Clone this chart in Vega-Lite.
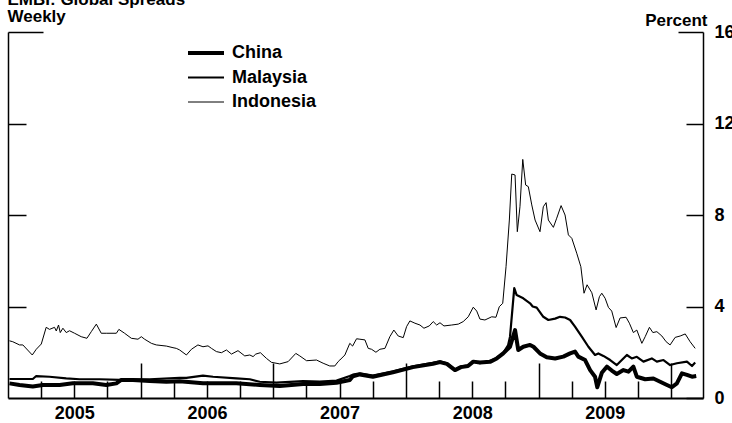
{
  "$schema": "https://vega.github.io/schema/vega-lite/v6.json",
  "width": 695,
  "height": 366,
  "autosize": {"type": "none"},
  "padding": {"left": 8, "top": 32, "right": 29, "bottom": 25},
  "background": "white",
  "config": {
    "font": "Liberation Sans",
    "view": {"stroke": null},
    "axis": {"grid": false, "domainColor": "black", "tickColor": "black", "labelColor": "black", "titleColor": "black", "labelFlush": false, "labelOverlap": false, "labelBound": false}
  },
  "layer": [
    {
      "data": {
        "values": [
          {"series":"Indonesia","year":2005.011,"spread":2.50},{"series":"Indonesia","year":2005.036,"spread":2.46},{"series":"Indonesia","year":2005.087,"spread":2.32},{"series":"Indonesia","year":2005.112,"spread":2.32},{"series":"Indonesia","year":2005.183,"spread":1.88},{"series":"Indonesia","year":2005.213,"spread":2.13},{"series":"Indonesia","year":2005.251,"spread":2.36},{"series":"Indonesia","year":2005.288,"spread":3.09},{"series":"Indonesia","year":2005.313,"spread":3.00},{"series":"Indonesia","year":2005.351,"spread":3.09},{"series":"Indonesia","year":2005.364,"spread":2.93},{"series":"Indonesia","year":2005.381,"spread":3.19},{"series":"Indonesia","year":2005.394,"spread":2.86},{"series":"Indonesia","year":2005.414,"spread":3.05},{"series":"Indonesia","year":2005.439,"spread":2.86},{"series":"Indonesia","year":2005.464,"spread":2.94},{"series":"Indonesia","year":2005.502,"spread":2.83},{"series":"Indonesia","year":2005.552,"spread":2.68},{"series":"Indonesia","year":2005.595,"spread":2.61},{"series":"Indonesia","year":2005.628,"spread":2.90},{"series":"Indonesia","year":2005.666,"spread":3.23},{"series":"Indonesia","year":2005.703,"spread":2.83},{"series":"Indonesia","year":2005.741,"spread":2.83},{"series":"Indonesia","year":2005.817,"spread":2.83},{"series":"Indonesia","year":2005.836,"spread":3.00},{"series":"Indonesia","year":2005.879,"spread":2.83},{"series":"Indonesia","year":2005.930,"spread":2.61},{"series":"Indonesia","year":2005.980,"spread":2.57},{"series":"Indonesia","year":2006.005,"spread":2.68},{"series":"Indonesia","year":2006.030,"spread":2.57},{"series":"Indonesia","year":2006.081,"spread":2.39},{"series":"Indonesia","year":2006.118,"spread":2.32},{"series":"Indonesia","year":2006.194,"spread":2.27},{"series":"Indonesia","year":2006.244,"spread":2.20},{"series":"Indonesia","year":2006.269,"spread":2.17},{"series":"Indonesia","year":2006.294,"spread":2.10},{"series":"Indonesia","year":2006.345,"spread":1.88},{"series":"Indonesia","year":2006.383,"spread":2.13},{"series":"Indonesia","year":2006.432,"spread":2.32},{"series":"Indonesia","year":2006.470,"spread":2.24},{"series":"Indonesia","year":2006.508,"spread":2.28},{"series":"Indonesia","year":2006.534,"spread":2.17},{"series":"Indonesia","year":2006.571,"spread":2.03},{"series":"Indonesia","year":2006.609,"spread":1.98},{"series":"Indonesia","year":2006.647,"spread":2.10},{"series":"Indonesia","year":2006.685,"spread":1.92},{"series":"Indonesia","year":2006.734,"spread":2.07},{"series":"Indonesia","year":2006.785,"spread":1.84},{"series":"Indonesia","year":2006.823,"spread":1.88},{"series":"Indonesia","year":2006.848,"spread":1.81},{"series":"Indonesia","year":2006.868,"spread":1.92},{"series":"Indonesia","year":2006.903,"spread":1.98},{"series":"Indonesia","year":2006.949,"spread":1.73},{"series":"Indonesia","year":2006.986,"spread":1.56},{"series":"Indonesia","year":2007.049,"spread":1.49},{"series":"Indonesia","year":2007.112,"spread":1.59},{"series":"Indonesia","year":2007.170,"spread":1.95},{"series":"Indonesia","year":2007.200,"spread":1.84},{"series":"Indonesia","year":2007.251,"spread":1.63},{"series":"Indonesia","year":2007.326,"spread":1.66},{"series":"Indonesia","year":2007.376,"spread":1.52},{"series":"Indonesia","year":2007.426,"spread":1.40},{"series":"Indonesia","year":2007.464,"spread":1.40},{"series":"Indonesia","year":2007.489,"spread":1.59},{"series":"Indonesia","year":2007.502,"spread":1.66},{"series":"Indonesia","year":2007.540,"spread":1.88},{"series":"Indonesia","year":2007.577,"spread":2.39},{"series":"Indonesia","year":2007.598,"spread":2.27},{"series":"Indonesia","year":2007.628,"spread":2.59},{"series":"Indonesia","year":2007.653,"spread":2.57},{"series":"Indonesia","year":2007.691,"spread":2.54},{"series":"Indonesia","year":2007.716,"spread":2.17},{"series":"Indonesia","year":2007.741,"spread":2.13},{"series":"Indonesia","year":2007.774,"spread":2.00},{"series":"Indonesia","year":2007.804,"spread":2.13},{"series":"Indonesia","year":2007.842,"spread":2.17},{"series":"Indonesia","year":2007.879,"spread":2.68},{"series":"Indonesia","year":2007.909,"spread":2.97},{"series":"Indonesia","year":2007.942,"spread":2.71},{"series":"Indonesia","year":2007.980,"spread":2.64},{"series":"Indonesia","year":2008.005,"spread":3.12},{"series":"Indonesia","year":2008.030,"spread":3.37},{"series":"Indonesia","year":2008.068,"spread":3.27},{"series":"Indonesia","year":2008.106,"spread":3.19},{"series":"Indonesia","year":2008.136,"spread":3.05},{"series":"Indonesia","year":2008.176,"spread":3.15},{"series":"Indonesia","year":2008.206,"spread":3.34},{"series":"Indonesia","year":2008.232,"spread":3.19},{"series":"Indonesia","year":2008.257,"spread":3.29},{"series":"Indonesia","year":2008.287,"spread":3.15},{"series":"Indonesia","year":2008.345,"spread":3.19},{"series":"Indonesia","year":2008.395,"spread":3.23},{"series":"Indonesia","year":2008.432,"spread":3.34},{"series":"Indonesia","year":2008.470,"spread":3.55},{"series":"Indonesia","year":2008.508,"spread":3.97},{"series":"Indonesia","year":2008.534,"spread":3.80},{"series":"Indonesia","year":2008.558,"spread":3.45},{"series":"Indonesia","year":2008.596,"spread":3.41},{"series":"Indonesia","year":2008.647,"spread":3.55},{"series":"Indonesia","year":2008.679,"spread":3.53},{"series":"Indonesia","year":2008.704,"spread":3.99},{"series":"Indonesia","year":2008.730,"spread":4.14},{"series":"Indonesia","year":2008.755,"spread":5.74},{"series":"Indonesia","year":2008.780,"spread":7.78},{"series":"Indonesia","year":2008.798,"spread":9.79},{"series":"Indonesia","year":2008.823,"spread":9.75},{"series":"Indonesia","year":2008.840,"spread":7.27},{"series":"Indonesia","year":2008.860,"spread":8.36},{"series":"Indonesia","year":2008.881,"spread":10.43},{"series":"Indonesia","year":2008.903,"spread":9.31},{"series":"Indonesia","year":2008.923,"spread":9.24},{"series":"Indonesia","year":2008.949,"spread":8.44},{"series":"Indonesia","year":2008.974,"spread":7.78},{"series":"Indonesia","year":2009.011,"spread":7.27},{"series":"Indonesia","year":2009.036,"spread":8.36},{"series":"Indonesia","year":2009.057,"spread":8.54},{"series":"Indonesia","year":2009.074,"spread":7.78},{"series":"Indonesia","year":2009.112,"spread":7.46},{"series":"Indonesia","year":2009.137,"spread":7.86},{"series":"Indonesia","year":2009.170,"spread":8.41},{"series":"Indonesia","year":2009.200,"spread":8.00},{"series":"Indonesia","year":2009.225,"spread":7.13},{"series":"Indonesia","year":2009.251,"spread":6.98},{"series":"Indonesia","year":2009.288,"spread":6.33},{"series":"Indonesia","year":2009.319,"spread":5.74},{"series":"Indonesia","year":2009.343,"spread":4.58},{"series":"Indonesia","year":2009.366,"spread":4.95},{"series":"Indonesia","year":2009.402,"spread":4.60},{"series":"Indonesia","year":2009.434,"spread":3.85},{"series":"Indonesia","year":2009.459,"spread":4.43},{"series":"Indonesia","year":2009.477,"spread":4.58},{"series":"Indonesia","year":2009.502,"spread":4.36},{"series":"Indonesia","year":2009.527,"spread":3.96},{"series":"Indonesia","year":2009.552,"spread":3.80},{"series":"Indonesia","year":2009.585,"spread":3.08},{"series":"Indonesia","year":2009.615,"spread":3.50},{"series":"Indonesia","year":2009.660,"spread":3.53},{"series":"Indonesia","year":2009.685,"spread":3.27},{"series":"Indonesia","year":2009.715,"spread":2.86},{"series":"Indonesia","year":2009.741,"spread":2.97},{"series":"Indonesia","year":2009.779,"spread":2.39},{"series":"Indonesia","year":2009.804,"spread":2.68},{"series":"Indonesia","year":2009.836,"spread":3.09},{"series":"Indonesia","year":2009.862,"spread":2.86},{"series":"Indonesia","year":2009.892,"spread":2.90},{"series":"Indonesia","year":2009.930,"spread":2.71},{"series":"Indonesia","year":2009.962,"spread":2.46},{"series":"Indonesia","year":2009.992,"spread":2.32},{"series":"Indonesia","year":2010.030,"spread":2.65},{"series":"Indonesia","year":2010.068,"spread":2.71},{"series":"Indonesia","year":2010.106,"spread":2.80},{"series":"Indonesia","year":2010.143,"spread":2.46},{"series":"Indonesia","year":2010.181,"spread":2.17},
          {"series":"Malaysia","year":2005.011,"spread":0.83},{"series":"Malaysia","year":2005.187,"spread":0.83},{"series":"Malaysia","year":2005.213,"spread":0.96},{"series":"Malaysia","year":2005.313,"spread":0.93},{"series":"Malaysia","year":2005.439,"spread":0.86},{"series":"Malaysia","year":2005.540,"spread":0.82},{"series":"Malaysia","year":2005.691,"spread":0.82},{"series":"Malaysia","year":2005.842,"spread":0.79},{"series":"Malaysia","year":2005.942,"spread":0.82},{"series":"Malaysia","year":2006.068,"spread":0.82},{"series":"Malaysia","year":2006.294,"spread":0.88},{"series":"Malaysia","year":2006.345,"spread":0.88},{"series":"Malaysia","year":2006.470,"spread":0.98},{"series":"Malaysia","year":2006.546,"spread":0.93},{"series":"Malaysia","year":2006.722,"spread":0.86},{"series":"Malaysia","year":2006.823,"spread":0.82},{"series":"Malaysia","year":2006.898,"spread":0.71},{"series":"Malaysia","year":2007.024,"spread":0.67},{"series":"Malaysia","year":2007.225,"spread":0.74},{"series":"Malaysia","year":2007.351,"spread":0.72},{"series":"Malaysia","year":2007.477,"spread":0.76},{"series":"Malaysia","year":2007.577,"spread":0.96},{"series":"Malaysia","year":2007.600,"spread":1.02},{"series":"Malaysia","year":2007.653,"spread":1.08},{"series":"Malaysia","year":2007.751,"spread":0.98},{"series":"Malaysia","year":2007.902,"spread":1.17},{"series":"Malaysia","year":2008.053,"spread":1.38},{"series":"Malaysia","year":2008.204,"spread":1.54},{"series":"Malaysia","year":2008.257,"spread":1.60},{"series":"Malaysia","year":2008.309,"spread":1.52},{"series":"Malaysia","year":2008.370,"spread":1.25},{"series":"Malaysia","year":2008.415,"spread":1.38},{"series":"Malaysia","year":2008.468,"spread":1.42},{"series":"Malaysia","year":2008.508,"spread":1.60},{"series":"Malaysia","year":2008.558,"spread":1.52},{"series":"Malaysia","year":2008.634,"spread":1.62},{"series":"Malaysia","year":2008.685,"spread":1.75},{"series":"Malaysia","year":2008.734,"spread":1.97},{"series":"Malaysia","year":2008.770,"spread":2.30},{"series":"Malaysia","year":2008.785,"spread":2.68},{"series":"Malaysia","year":2008.817,"spread":4.80},{"series":"Malaysia","year":2008.835,"spread":4.50},{"series":"Malaysia","year":2008.885,"spread":4.36},{"series":"Malaysia","year":2008.936,"spread":4.14},{"series":"Malaysia","year":2008.956,"spread":4.00},{"series":"Malaysia","year":2008.986,"spread":3.95},{"series":"Malaysia","year":2009.036,"spread":3.55},{"series":"Malaysia","year":2009.074,"spread":3.41},{"series":"Malaysia","year":2009.125,"spread":3.47},{"series":"Malaysia","year":2009.162,"spread":3.55},{"series":"Malaysia","year":2009.200,"spread":3.52},{"series":"Malaysia","year":2009.238,"spread":3.41},{"series":"Malaysia","year":2009.275,"spread":3.12},{"series":"Malaysia","year":2009.326,"spread":2.68},{"series":"Malaysia","year":2009.376,"spread":2.24},{"series":"Malaysia","year":2009.426,"spread":1.88},{"series":"Malaysia","year":2009.451,"spread":1.95},{"series":"Malaysia","year":2009.489,"spread":1.84},{"series":"Malaysia","year":2009.540,"spread":1.66},{"series":"Malaysia","year":2009.590,"spread":1.44},{"series":"Malaysia","year":2009.628,"spread":1.66},{"series":"Malaysia","year":2009.666,"spread":1.88},{"series":"Malaysia","year":2009.703,"spread":1.73},{"series":"Malaysia","year":2009.741,"spread":1.80},{"series":"Malaysia","year":2009.791,"spread":1.59},{"series":"Malaysia","year":2009.854,"spread":1.73},{"series":"Malaysia","year":2009.892,"spread":1.59},{"series":"Malaysia","year":2009.942,"spread":1.66},{"series":"Malaysia","year":2009.992,"spread":1.44},{"series":"Malaysia","year":2010.043,"spread":1.52},{"series":"Malaysia","year":2010.119,"spread":1.59},{"series":"Malaysia","year":2010.157,"spread":1.40},{"series":"Malaysia","year":2010.181,"spread":1.55},
          {"series":"China","year":2005.011,"spread":0.64},{"series":"China","year":2005.087,"spread":0.57},{"series":"China","year":2005.187,"spread":0.50},{"series":"China","year":2005.263,"spread":0.57},{"series":"China","year":2005.389,"spread":0.57},{"series":"China","year":2005.489,"spread":0.64},{"series":"China","year":2005.640,"spread":0.64},{"series":"China","year":2005.741,"spread":0.57},{"series":"China","year":2005.817,"spread":0.64},{"series":"China","year":2005.854,"spread":0.79},{"series":"China","year":2005.942,"spread":0.79},{"series":"China","year":2006.068,"spread":0.74},{"series":"China","year":2006.194,"spread":0.71},{"series":"China","year":2006.294,"spread":0.73},{"series":"China","year":2006.470,"spread":0.64},{"series":"China","year":2006.722,"spread":0.64},{"series":"China","year":2006.898,"spread":0.57},{"series":"China","year":2007.049,"spread":0.52},{"series":"China","year":2007.225,"spread":0.61},{"series":"China","year":2007.351,"spread":0.61},{"series":"China","year":2007.477,"spread":0.67},{"series":"China","year":2007.577,"spread":0.79},{"series":"China","year":2007.600,"spread":0.95},{"series":"China","year":2007.653,"spread":1.03},{"series":"China","year":2007.751,"spread":0.93},{"series":"China","year":2007.902,"spread":1.12},{"series":"China","year":2008.053,"spread":1.35},{"series":"China","year":2008.204,"spread":1.50},{"series":"China","year":2008.257,"spread":1.57},{"series":"China","year":2008.309,"spread":1.49},{"series":"China","year":2008.370,"spread":1.22},{"series":"China","year":2008.415,"spread":1.35},{"series":"China","year":2008.468,"spread":1.40},{"series":"China","year":2008.508,"spread":1.59},{"series":"China","year":2008.558,"spread":1.55},{"series":"China","year":2008.634,"spread":1.58},{"series":"China","year":2008.685,"spread":1.73},{"series":"China","year":2008.734,"spread":1.95},{"series":"China","year":2008.785,"spread":2.24},{"series":"China","year":2008.823,"spread":2.97},{"series":"China","year":2008.847,"spread":2.10},{"series":"China","year":2008.885,"spread":2.24},{"series":"China","year":2008.936,"spread":2.32},{"series":"China","year":2008.962,"spread":2.24},{"series":"China","year":2009.011,"spread":1.95},{"series":"China","year":2009.062,"spread":1.78},{"series":"China","year":2009.125,"spread":1.73},{"series":"China","year":2009.187,"spread":1.81},{"series":"China","year":2009.238,"spread":1.95},{"series":"China","year":2009.275,"spread":2.03},{"series":"China","year":2009.300,"spread":1.81},{"series":"China","year":2009.351,"spread":1.66},{"series":"China","year":2009.389,"spread":1.22},{"series":"China","year":2009.426,"spread":0.93},{"series":"China","year":2009.443,"spread":0.47},{"series":"China","year":2009.477,"spread":1.10},{"series":"China","year":2009.515,"spread":1.37},{"series":"China","year":2009.552,"spread":1.20},{"series":"China","year":2009.590,"spread":1.05},{"series":"China","year":2009.640,"spread":1.22},{"series":"China","year":2009.678,"spread":1.15},{"series":"China","year":2009.715,"spread":1.37},{"series":"China","year":2009.741,"spread":0.93},{"series":"China","year":2009.804,"spread":0.82},{"series":"China","year":2009.866,"spread":0.85},{"series":"China","year":2009.917,"spread":0.71},{"series":"China","year":2009.968,"spread":0.57},{"series":"China","year":2010.005,"spread":0.47},{"series":"China","year":2010.043,"spread":0.64},{"series":"China","year":2010.081,"spread":1.08},{"series":"China","year":2010.119,"spread":1.01},{"series":"China","year":2010.157,"spread":0.93},{"series":"China","year":2010.189,"spread":0.96}
        ]
      },
      "mark": {"type": "line", "color": "black", "strokeJoin": "round"},
      "encoding": {
        "x": {
          "field": "year", "type": "quantitative",
          "scale": {"domain": [2005, 2010.24], "nice": false, "zero": false},
          "axis": {
            "title": null,
            "values": [2005.25, 2005.5, 2005.75, 2006, 2006.25, 2006.5, 2006.75, 2007, 2007.25, 2007.5, 2007.75, 2008, 2008.25, 2008.5, 2008.75, 2009, 2009.25, 2009.5, 2009.75, 2010],
            "tickSize": {"condition": {"test": "datum.value % 1 == 0", "value": -35}, "value": -17},
            "tickWidth": 1.5,
            "domainWidth": 2,
            "labelExpr": "datum.value % 1 == 0.5 ? '' + floor(datum.value) : ''",
            "labelFontSize": 18,
            "labelFontWeight": "bold",
            "labelPadding": 23
          }
        },
        "y": {
          "field": "spread", "type": "quantitative",
          "scale": {"domain": [0, 16], "nice": false, "zero": true},
          "axis": {
            "orient": "left",
            "values": [4, 8, 12, 16],
            "labels": false,
            "tickSize": {"condition": {"test": "datum.value == 16", "value": -35}, "value": -18},
            "tickWidth": 1.5,
            "domainWidth": 1.5,
            "title": ["EMBI: Global Spreads", "Weekly"],
            "titleAngle": 0,
            "titleAlign": "left",
            "titleBaseline": "alphabetic",
            "titleX": -1,
            "titleY": -28,
            "titleFontSize": 17,
            "titleFontWeight": "bold",
            "titleLineHeight": 17
          }
        },
        "strokeWidth": {
          "field": "series", "type": "nominal",
          "scale": {"type": "ordinal", "domain": ["China", "Malaysia", "Indonesia"], "range": [4, 2.2, 1]},
          "legend": {
            "orient": "none",
            "legendX": 189,
            "legendY": 12,
            "title": null,
            "padding": 0,
            "symbolType": "M-3,0H3",
            "symbolSize": 144,
            "symbolStrokeColor": "black",
            "labelFontSize": 18,
            "labelFontWeight": "bold",
            "labelColor": "black",
            "labelOffset": 17,
            "rowPadding": 6.5
          }
        }
      }
    },
    {
      "data": {"values": [{}]},
      "mark": {"type": "rule", "strokeOpacity": 0},
      "encoding": {
        "y": {
          "datum": 0, "type": "quantitative",
          "axis": {
            "orient": "right",
            "values": [0, 4, 8, 12, 16],
            "tickSize": {"condition": {"test": "datum.value == 16", "value": -25}, "value": -17},
            "labelPadding": {"condition": {"test": "datum.value == 16", "value": 36}, "value": 28},
            "tickWidth": 1.5,
            "domainWidth": 1.5,
            "labelFontSize": 18,
            "labelFontWeight": "bold",
            "title": "Percent",
            "titleAngle": 0,
            "titleAlign": "right",
            "titleBaseline": "alphabetic",
            "titleX": 4,
            "titleY": -7,
            "titleFontSize": 17,
            "titleFontWeight": "bold"
          }
        }
      }
    }
  ],
  "resolve": {"axis": {"y": "independent"}}
}
